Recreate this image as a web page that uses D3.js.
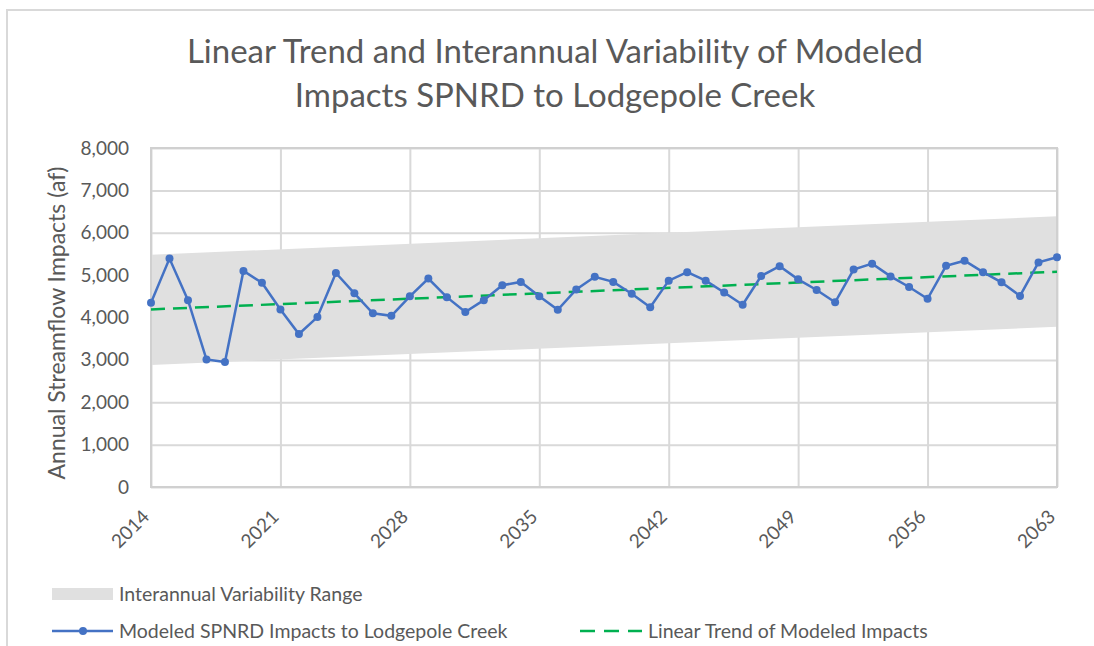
<!DOCTYPE html>
<html>
<head>
<meta charset="utf-8">
<script src="https://cdn.jsdelivr.net/npm/d3@7"></script>
<style>
  body { margin: 0; background: #fff; }
  svg { display: block; font-family: Lato, "Open Sans", sans-serif; }
</style>
</head>
<body>
<div id="chart"></div>
<script>
// ---- data ----
var years = d3.range(2014, 2064);
var impacts = [
  4350, 5390, 4410, 3010, 2950, 5100, 4820, 4190, 3610, 4010,
  5050, 4570, 4100, 4040, 4500, 4920, 4480, 4130, 4410, 4760,
  4840, 4500, 4180, 4660, 4960, 4840, 4560, 4240, 4870, 5070,
  4870, 4590, 4300, 4980, 5210, 4900, 4650, 4360, 5130, 5270,
  4970, 4720, 4440, 5220, 5340, 5070, 4830, 4510, 5300, 5420
];
var trendYears = [2014, 2063];
var trendValues = [4190, 5080];
var bandLow = [2880, 3780];
var bandHigh = [5480, 6390];
var yTicks = [0, 1000, 2000, 3000, 4000, 5000, 6000, 7000, 8000];
var xTicks = [2014, 2021, 2028, 2035, 2042, 2049, 2056, 2063];

var W = 1094, H = 646;
var plotL = 151, plotR = 1057, plotT = 148, plotB = 487;
var textColor = "#595959";
var gridColor = "#d9d9d9";
var blue = "#4472c4", green = "#00b050", bandColor = "#e0e0e0";

var svg = d3.select("#chart").append("svg")
  .attr("width", W)
  .attr("height", H);

// outer chart border
svg.append("rect")
  .attr("x", 7).attr("y", 10)
  .attr("width", 1100).attr("height", 700)
  .attr("fill", "#fff")
  .attr("stroke", gridColor)
  .attr("stroke-width", 2);

var x = d3.scaleLinear().domain([2014, 2063]).range([plotL, plotR]);
var y = d3.scaleLinear().domain([0, 8000]).range([plotB, plotT]);

// title
var title = svg.append("text")
  .attr("text-anchor", "middle")
  .attr("fill", textColor)
  .style("font-size", "33px");
title.append("tspan").attr("x", 555).attr("y", 63)
  .text("Linear Trend and Interannual Variability of Modeled");
title.append("tspan").attr("x", 555).attr("y", 107)
  .text("Impacts SPNRD to Lodgepole Creek");

// gridlines
svg.append("g")
  .attr("transform", "translate(" + plotL + ",0)")
  .call(d3.axisLeft(y).tickValues(yTicks).tickSize(-(plotR - plotL)).tickFormat(""))
  .call(function(g) {
    g.select(".domain").remove();
    g.selectAll("line").attr("stroke", gridColor).attr("stroke-width", 2);
  });
svg.append("g")
  .attr("transform", "translate(0," + plotB + ")")
  .call(d3.axisBottom(x).tickValues(xTicks).tickSize(-(plotB - plotT)).tickFormat(""))
  .call(function(g) {
    g.select(".domain").remove();
    g.selectAll("line").attr("stroke", gridColor).attr("stroke-width", 2);
  });

// variability band
var bandData = trendYears.map(function(yr, i) {
  return { year: yr, lo: bandLow[i], hi: bandHigh[i] };
});
svg.append("path")
  .datum(bandData)
  .attr("fill", bandColor)
  .attr("d", d3.area()
    .x(function(d) { return x(d.year); })
    .y0(function(d) { return y(d.lo); })
    .y1(function(d) { return y(d.hi); }));

// plot frame
svg.append("rect")
  .attr("x", plotL).attr("y", plotT)
  .attr("width", plotR - plotL).attr("height", plotB - plotT)
  .attr("fill", "none")
  .attr("stroke", "#d0d0d0")
  .attr("stroke-width", 2);

// y axis labels
svg.append("g")
  .attr("transform", "translate(" + plotL + ",0)")
  .call(d3.axisLeft(y).tickValues(yTicks).tickSize(0).tickPadding(22)
    .tickFormat(d3.format(",")))
  .call(function(g) {
    g.select(".domain").remove();
    g.selectAll("text")
      .attr("fill", textColor)
      .style("font-size", "19px")
      .style("font-family", "Lato, sans-serif");
  });

// x axis labels, rotated
svg.append("g")
  .attr("transform", "translate(0," + plotB + ")")
  .call(d3.axisBottom(x).tickValues(xTicks).tickSize(0).tickFormat(d3.format("d")))
  .call(function(g) {
    g.select(".domain").remove();
    g.selectAll("text")
      .attr("fill", textColor)
      .style("font-size", "19px")
      .style("font-family", "Lato, sans-serif")
      .attr("text-anchor", "end")
      .attr("y", 0)
      .attr("dy", null)
      .attr("transform", "translate(-1,31) rotate(-45)");
  });

// y axis title
svg.append("text")
  .attr("transform", "translate(65,323) rotate(-90)")
  .attr("text-anchor", "middle")
  .attr("fill", textColor)
  .style("font-size", "23px")
  .text("Annual Streamflow Impacts (af)");

// trend line
svg.append("path")
  .datum(trendYears.map(function(yr, i) { return [yr, trendValues[i]]; }))
  .attr("fill", "none")
  .attr("stroke", green)
  .attr("stroke-width", 2.5)
  .attr("stroke-dasharray", "14,8")
  .attr("d", d3.line()
    .x(function(d) { return x(d[0]); })
    .y(function(d) { return y(d[1]); }));

// modeled impacts
var series = years.map(function(yr, i) { return [yr, impacts[i]]; });
svg.append("path")
  .datum(series)
  .attr("fill", "none")
  .attr("stroke", blue)
  .attr("stroke-width", 2.5)
  .attr("d", d3.line()
    .x(function(d) { return x(d[0]); })
    .y(function(d) { return y(d[1]); }));
svg.append("g").selectAll("circle")
  .data(series)
  .enter()
  .append("circle")
  .attr("cx", function(d) { return x(d[0]); })
  .attr("cy", function(d) { return y(d[1]); })
  .attr("r", 4)
  .attr("fill", blue);

// legend
var legend = svg.append("g").style("font-size", "19.5px").attr("fill", textColor);
legend.append("rect")
  .attr("x", 52).attr("y", 588).attr("width", 61).attr("height", 12)
  .attr("fill", bandColor);
legend.append("text").attr("x", 119).attr("y", 601)
  .text("Interannual Variability Range");

legend.append("line")
  .attr("x1", 52).attr("x2", 113).attr("y1", 631).attr("y2", 631)
  .attr("stroke", blue).attr("stroke-width", 2.5);
legend.append("circle").attr("cx", 83).attr("cy", 631).attr("r", 4).attr("fill", blue);
legend.append("text").attr("x", 119).attr("y", 638)
  .text("Modeled SPNRD Impacts to Lodgepole Creek");

legend.append("line")
  .attr("x1", 580).attr("x2", 642).attr("y1", 631).attr("y2", 631)
  .attr("stroke", green).attr("stroke-width", 2.5)
  .attr("stroke-dasharray", "15,9");
legend.append("text").attr("x", 648).attr("y", 638)
  .text("Linear Trend of Modeled Impacts");
</script>
</body>
</html>
